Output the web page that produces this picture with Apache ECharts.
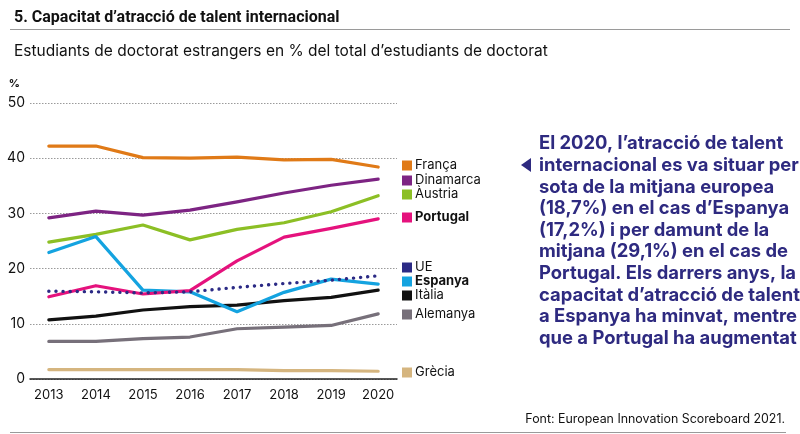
<!DOCTYPE html>
<html>
<head>
<meta charset="utf-8">
<script src="https://cdn.jsdelivr.net/npm/echarts@6/dist/echarts.min.js"></script>
<style>
  html, body { margin: 0; padding: 0; background: #fff; }
  #chart { width: 800px; height: 434px; }
</style>
</head>
<body>
<div id="chart"></div>
<script>
// anys
var years = [2013, 2014, 2015, 2016, 2017, 2018, 2019, 2020];
var yTicks = [0, 10, 20, 30, 40, 50];

// % d'estudiants de doctorat estrangers
var franca    = [42.2, 42.2, 40.1, 40.0, 40.2, 39.7, 39.8, 38.4];
var dinamarca = [29.2, 30.4, 29.7, 30.6, 32.1, 33.7, 35.1, 36.2];
var austria   = [24.8, 26.2, 27.9, 25.2, 27.1, 28.3, 30.3, 33.2];
var portugal  = [14.9, 16.9, 15.4, 16.0, 21.4, 25.7, 27.3, 29.0];
var ue        = [15.9, 15.8, 15.6, 15.8, 16.6, 17.3, 17.9, 18.7];
var espanya   = [22.9, 25.8, 16.1, 15.8, 12.2, 15.7, 18.1, 17.2];
var italia    = [10.7, 11.4, 12.5, 13.1, 13.4, 14.2, 14.8, 16.1];
var alemanya  = [6.8, 6.8, 7.3, 7.6, 9.1, 9.4, 9.7, 11.8];
var grecia    = [1.7, 1.7, 1.7, 1.7, 1.7, 1.5, 1.5, 1.4];

var FONT = 'Inter, "Noto Sans", sans-serif';

function pairs(vals) {
    var out = [];
    for (var i = 0; i < years.length; i++) {
        out.push([years[i], vals[i]]);
    }
    return out;
}

function lineSeries(name, vals, color, extra) {
    var s = {
        name: name,
        type: 'line',
        data: pairs(vals),
        symbol: 'none',
        silent: true,
        itemStyle: { color: color },
        lineStyle: { color: color, width: 3.2, cap: 'round', join: 'round' }
    };
    if (extra) {
        for (var k in extra) s.lineStyle[k] = extra[k];
    }
    return s;
}

// una llegenda per element, per poder posar-les a l'alçada de cada línia
function legendAt(name, top, bold) {
    return {
        data: [name],
        left: 402,
        top: top,
        orient: 'vertical',
        icon: 'rect',
        itemWidth: 10,
        itemHeight: 10,
        itemGap: 0,
        padding: 0,
        selectedMode: false,
        textStyle: {
            fontFamily: FONT,
            fontSize: 13,
            color: '#111',
            fontWeight: bold ? 'bold' : 'normal',
            padding: [0, 0, 0, -2]
        }
    };
}

var myChart = echarts.init(document.getElementById('chart'), null, { renderer: 'canvas' });

var option = {
    backgroundColor: '#fff',
    animation: false,
    textStyle: { fontFamily: FONT },
    title: [
        {
            text: '5. Capacitat d\u2019atracció de talent internacional',
            left: 9,
            top: 5,
            textStyle: { fontFamily: 'Roboto, sans-serif', fontSize: 16, fontWeight: 'bold', color: '#111' }
        },
        {
            text: 'Estudiants de doctorat estrangers en % del total d\u2019estudiants de doctorat',
            left: 9,
            top: 38,
            textStyle: { fontFamily: FONT, fontSize: 15.5, fontWeight: 'normal', color: '#111' }
        },
        {
            text: 'Font: European Innovation Scoreboard 2021.',
            right: 15,
            top: 413,
            padding: 0,
            textStyle: { fontFamily: FONT, fontSize: 12.4, fontWeight: 'normal', color: '#111' }
        }
    ],
    legend: [
        legendAt('França', 159),
        legendAt('Dinamarca', 174),
        legendAt('Àustria', 188),
        legendAt('Portugal', 211, true),
        legendAt('UE', 261),
        legendAt('Espanya', 275, true),
        legendAt('Itàlia', 289),
        legendAt('Alemanya', 308),
        legendAt('Grècia', 366)
    ],
    grid: { left: 30, right: 403, top: 103, bottom: 55 },
    xAxis: {
        type: 'value',
        min: 2012.6,
        max: 2020.4,
        axisLine: { show: true, onZero: false, lineStyle: { color: '#222', width: 1.5 } },
        axisTick: { show: false },
        splitLine: { show: false },
        axisLabel: {
            customValues: years,
            margin: 10,
            fontFamily: FONT,
            fontSize: 13,
            color: '#111',
            formatter: function (v) { return String(v); }
        }
    },
    yAxis: {
        type: 'value',
        min: 0,
        max: 50,
        interval: 10,
        name: '%',
        nameLocation: 'end',
        nameGap: 14,
        nameTextStyle: { fontFamily: FONT, fontSize: 11, fontWeight: 'bold', color: '#111', align: 'right', padding: [0, 10, 0, 0] },
        axisLine: { show: false },
        axisTick: { show: false },
        splitLine: { show: true, lineStyle: { color: '#9a9a9a', type: [1.5, 1.5], width: 1 } },
        axisLabel: {
            customValues: yTicks,
            margin: 5,
            fontFamily: FONT,
            fontSize: 14,
            color: '#111'
        }
    },
    series: [
        lineSeries('Grècia', grecia, '#d5b57f'),
        lineSeries('Alemanya', alemanya, '#77707a'),
        lineSeries('Itàlia', italia, '#111111'),
        lineSeries('Àustria', austria, '#8cbf25'),
        lineSeries('Dinamarca', dinamarca, '#7d2483'),
        lineSeries('França', franca, '#e07a17'),
        lineSeries('Espanya', espanya, '#14a3e0'),
        lineSeries('Portugal', portugal, '#e5127d'),
        lineSeries('UE', ue, '#2b2a85', { type: [0.1, 7], width: 3.4, cap: 'round' })
    ],
    graphic: [
        { type: 'line', shape: { x1: 10, y1: 29.5, x2: 790, y2: 29.5 }, style: { stroke: '#9a9a9a', lineWidth: 1 } },
        { type: 'line', shape: { x1: 10, y1: 432.5, x2: 786, y2: 432.5 }, style: { stroke: '#9a9a9a', lineWidth: 1 } },
        { type: 'polygon', shape: { points: [[531, 158], [531, 172], [521, 165]] }, style: { fill: '#2e2a80' } },
        {
            type: 'text',
            left: 539,
            top: 133,
            style: {
                text: 'El 2020, l\u2019atracció de talent\n' +
                      'internacional es va situar per\n' +
                      'sota de la mitjana europea\n' +
                      '(18,7%) en el cas d\u2019Espanya\n' +
                      '(17,2%) i per damunt de la\n' +
                      'mitjana (29,1%) en el cas de\n' +
                      'Portugal. Els darrers anys, la\n' +
                      'capacitat d\u2019atracció de talent\n' +
                      'a Espanya ha minvat, mentre\n' +
                      'que a Portugal ha augmentat',
                font: 'bold 18.4px ' + FONT,
                lineHeight: 21.6,
                fill: '#2e2a80'
            }
        }
    ]
};

myChart.setOption(option);
window.onresize = myChart.resize;
</script>
</body>
</html>
